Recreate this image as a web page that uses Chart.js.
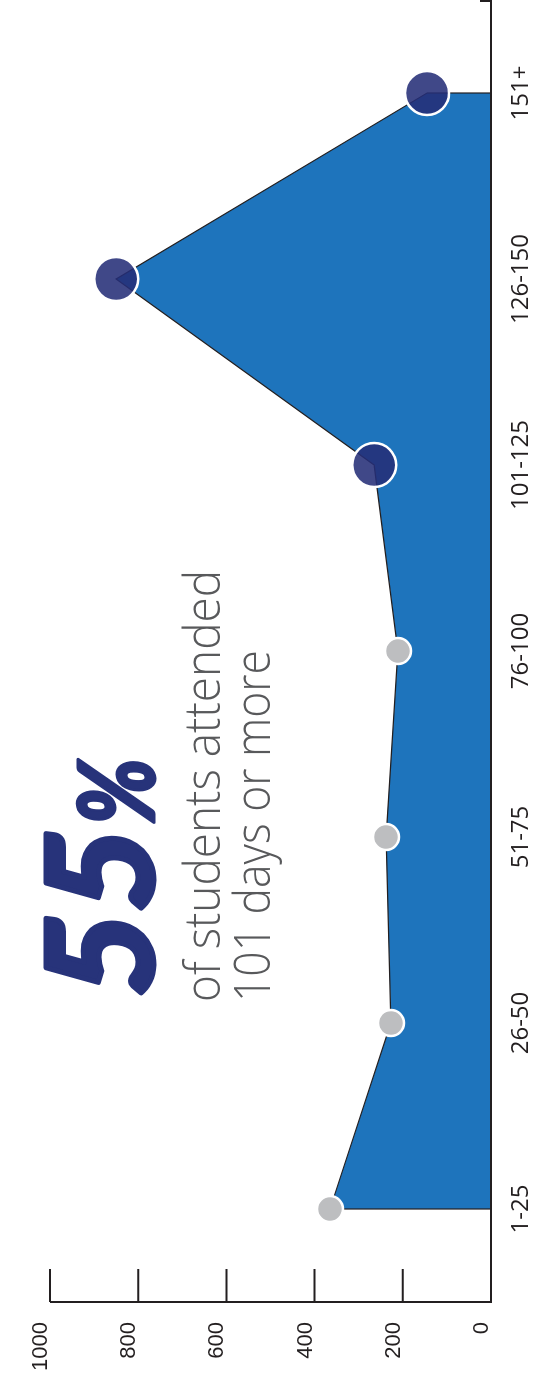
<!DOCTYPE html>
<html>
<head>
<meta charset="utf-8">
<title>Days attended</title>
<script src="https://cdn.jsdelivr.net/npm/chart.js@4/dist/chart.umd.min.js"></script>
<style>
  html, body {
    margin: 0;
    padding: 0;
    background: #fff;
    overflow: hidden;
  }
  /* the chart is laid out landscape, then turned to read bottom-to-top */
  #stage {
    position: absolute;
    left: 0;
    top: 0;
    width: 1386px;
    height: 533px;
    transform-origin: 0 0;
    transform: translateY(1386px) rotate(-90deg);
  }
</style>
</head>
<body>
<div id="stage">
  <canvas id="daysChart" width="1386" height="533"></canvas>
</div>
<script>
// Students by number of days attended
const categories = ["1-25", "26-50", "51-75", "76-100", "101-125", "126-150", "151+"];
const students = [365, 227, 238, 211, 265, 850, 145];
const valueTicks = [0, 200, 400, 600, 800, 1000];

// buckets from this index on count as "101 days or more"
const HIGHLIGHT_FROM = 4;

const AREA_BLUE = "#1e74bc";
const NAVY = "#27337a";
const DOT_NAVY = "rgba(38, 47, 119, 0.88)";
const DOT_GREY = "#bdbec0";
const INK = "#231f20";

const total = students.reduce((a, b) => a + b, 0);
const highShare = students.slice(HIGHLIGHT_FROM).reduce((a, b) => a + b, 0) / total;

// closed outline: down to zero at both ends so the edges get stroked too
const outline = [{ x: 0, y: 0 }]
  .concat(students.map((v, i) => ({ x: i, y: v })))
  .concat([{ x: categories.length - 1, y: 0 }]);

const dots = students.map((v, i) => ({ x: i, y: v }));

/**
 * Axis lines and inward tick marks
 */
const axisPlugin = {
  id: "axisMarks",
  afterDatasetsDraw(chart) {
    const { ctx, chartArea, scales } = chart;
    const y = scales.y;
    ctx.save();
    ctx.strokeStyle = INK;
    ctx.lineWidth = 2;
    ctx.lineCap = "butt";

    // value axis + ticks pointing into the plot
    ctx.beginPath();
    ctx.moveTo(chartArea.left, y.getPixelForValue(1000));
    ctx.lineTo(chartArea.left, chartArea.bottom + 1);
    valueTicks.forEach((t) => {
      const py = y.getPixelForValue(t);
      ctx.moveTo(chartArea.left, py);
      ctx.lineTo(chartArea.left + 33, py);
    });

    // baseline with a short end tick
    const base = y.getPixelForValue(0);
    ctx.moveTo(chartArea.left - 1, base);
    ctx.lineTo(chartArea.right - 1, base);
    ctx.lineTo(chartArea.right - 1, base - 11);
    ctx.stroke();
    ctx.restore();
  },
};

/**
 * Headline share and caption in the empty upper-left of the plot
 */
const calloutPlugin = {
  id: "callout",
  beforeDatasetsDraw(chart) {
    const ctx = chart.ctx;
    ctx.save();
    ctx.textBaseline = "alphabetic";
    ctx.textAlign = "left";

    // heavy headline figure: fill plus a stroke to thicken the strokes
    const pct = String(Math.round(highShare * 100));
    ctx.fillStyle = NAVY;
    ctx.strokeStyle = NAVY;
    ctx.lineJoin = "round";
    ctx.lineWidth = 5;
    ctx.font = 'italic 900 146px Lato, "Open Sans", sans-serif';
    ctx.fillText(pct, 389, 153, 176);
    ctx.strokeText(pct, 389, 153, 176);
    ctx.lineWidth = 3;
    ctx.font = 'italic 900 104px Lato, "Open Sans", sans-serif';
    ctx.fillText("%", 561, 154, 67);
    ctx.strokeText("%", 561, 154, 67);

    ctx.fillStyle = "#58595b";
    ctx.font = '300 49px "Open Sans", sans-serif';
    ctx.fillText("of students attended", 384, 220, 432);
    ctx.fillText("101 days or more", 384, 270, 352);
    ctx.restore();
  },
};

const canvas = document.getElementById("daysChart");
const ctx = canvas.getContext("2d");

new Chart(ctx, {
  type: "line",
  data: {
    datasets: [
      {
        data: dots,
        showLine: false,
        pointRadius: students.map((v, i) => (i >= HIGHLIGHT_FROM ? 22 : 13)),
        pointBackgroundColor: students.map((v, i) => (i >= HIGHLIGHT_FROM ? DOT_NAVY : DOT_GREY)),
        pointBorderColor: "#fff",
        pointBorderWidth: 2.5,
        clip: false,
        order: 1,
      },
      {
        data: outline,
        fill: "origin",
        backgroundColor: AREA_BLUE,
        borderColor: INK,
        borderWidth: 1.2,
        pointRadius: 0,
        tension: 0,
        order: 2,
      },
    ],
  },
  options: {
    responsive: false,
    animation: false,
    events: [],
    layout: {
      autoPadding: false,
      padding: { top: 50, left: 0, right: 0, bottom: 0 },
    },
    plugins: {
      legend: { display: false },
      tooltip: { enabled: false },
    },
    scales: {
      x: {
        type: "linear",
        min: -0.5,
        max: categories.length - 0.5,
        afterBuildTicks: (scale) => {
          scale.ticks = categories.map((c, i) => ({ value: i }));
        },
        afterFit: (scale) => {
          scale.height = 42;
          scale.paddingLeft = 0;
          scale.paddingRight = 0;
        },
        grid: { display: false, drawTicks: false },
        border: { display: false },
        ticks: {
          autoSkip: false,
          maxRotation: 0,
          padding: 16,
          color: INK,
          font: { family: '"Open Sans", sans-serif', size: 24 },
          callback: (value) => categories[value],
        },
      },
      y: {
        min: 0,
        max: 1000,
        afterBuildTicks: (scale) => {
          scale.ticks = valueTicks.map((v) => ({ value: v }));
        },
        afterFit: (scale) => {
          scale.width = 84;
        },
        grid: { display: false, drawTicks: false },
        border: { display: false },
        ticks: {
          padding: 20,
          labelOffset: -9,
          color: INK,
          font: { family: '"Liberation Sans", Arial, sans-serif', size: 22 },
          callback: (value) => String(value),
        },
      },
    },
  },
  plugins: [calloutPlugin, axisPlugin],
});
</script>
</body>
</html>
